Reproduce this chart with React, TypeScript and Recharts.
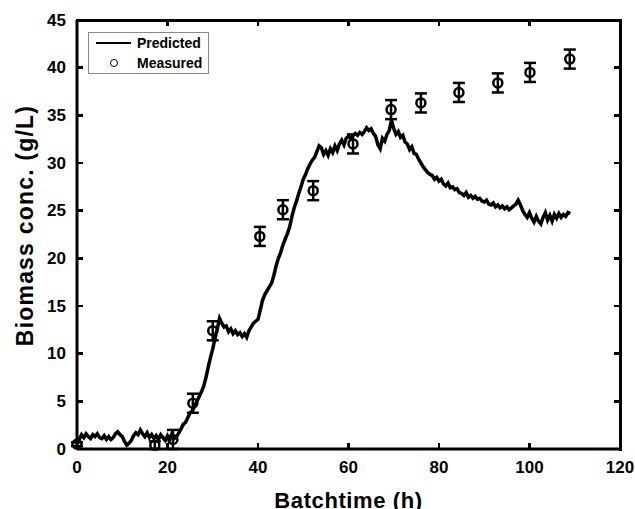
import React from "react";
import {
  ComposedChart,
  Line,
  Scatter,
  ErrorBar,
  XAxis,
  YAxis,
  Legend,
} from "recharts";

// predicted biomass, sampled every 0.5 h starting at 0 h
const PRED_STEP = 0.5;
const predValues = [
  0.6, 1.0, 1.5, 1.2, 1.6, 1.3, 1.1, 1.5, 1.3, 1.6,
  1.2, 1.1, 1.4, 1.0, 1.3, 1.0, 1.2, 1.6, 1.8, 1.5,
  1.3, 0.8, 0.4, 0.6, 0.9, 1.4, 1.7, 1.5, 2.0, 1.6,
  1.3, 1.7, 1.2, 1.5, 1.1, 1.4, 1.0, 1.5, 1.2, 0.9,
  1.4, 1.0, 1.6, 1.1, 1.3, 1.7, 2.1, 2.6, 2.8, 3.3,
  3.8, 4.0, 4.5, 5.0, 5.5, 6.0, 6.6, 7.5, 8.6, 9.6,
  10.5, 11.6, 12.6, 13.7, 13.2, 12.8, 12.9, 12.3, 12.6, 12.1,
  12.4, 12.0, 12.2, 11.8, 12.1, 11.7, 12.4, 12.8, 13.2, 13.4,
  13.6, 14.6, 15.6, 16.2, 16.6, 17.0, 17.4, 18.2, 19.2, 20.0,
  20.6, 21.4, 22.0, 22.6, 23.3, 24.4, 25.3, 26.0, 26.8, 27.5,
  28.3, 28.8, 29.4, 29.9, 30.3, 30.6, 31.2, 31.8, 31.6, 30.9,
  31.3, 30.8, 31.5, 31.1, 31.8, 31.3, 32.0, 32.4, 31.9, 32.6,
  32.8, 32.6, 32.9, 33.1, 32.9, 33.2, 33.0, 33.3, 33.7, 33.4,
  33.6, 33.1, 32.8, 31.9, 31.5, 32.6, 32.3, 33.0, 33.4, 34.5,
  33.6, 33.0, 33.3, 32.7, 32.9, 32.2, 32.0, 31.4, 31.7, 31.0,
  30.9, 30.4, 30.0, 29.6, 29.3, 29.0, 28.8, 28.7, 28.3, 28.5,
  28.1, 28.3, 27.8, 27.6, 27.9, 27.4, 27.5, 27.2, 27.3, 26.9,
  26.8, 26.6, 26.9, 26.4, 26.6, 26.3, 26.5, 26.2, 26.3, 26.0,
  25.9, 26.1, 25.7, 25.6, 25.8, 25.4, 25.6, 25.3, 25.5, 25.2,
  25.4, 25.1, 25.3, 25.5, 25.7, 26.1, 25.6, 25.0, 24.6, 24.3,
  24.8, 24.2, 23.8, 24.4, 23.9, 23.6, 24.3, 24.8, 24.0, 24.5,
  23.9, 24.6, 24.2, 24.7, 24.3, 24.6, 24.4, 24.8, 24.7,
];

// measured samples
const measTime = [0, 17.2, 21.2, 25.6, 30.0, 40.4, 45.5, 52.2, 61.0, 69.4, 76.0, 84.4, 93.0, 100.1, 108.9];
const measValue = [0.5, 0.4, 1.0, 4.8, 12.4, 22.3, 25.1, 27.1, 32.0, 35.6, 36.3, 37.4, 38.4, 39.5, 40.9];
const measError = [0.2, 0.4, 1.0, 1.0, 1.0, 1.0, 1.0, 1.0, 1.0, 1.0, 1.0, 1.0, 1.0, 1.0, 1.0];

const xTicks = [0, 20, 40, 60, 80, 100, 120];
const yTicks = [0, 5, 10, 15, 20, 25, 30, 35, 40, 45];
const X_MAX = xTicks[xTicks.length - 1];
const Y_MAX = yTicks[yTicks.length - 1];

const predData = predValues.map((y, i) => ({ x: i * PRED_STEP, y }));
const measData = measTime.map((x, i) => ({ x, y: measValue[i], err: measError[i] }));

// chart geometry
const PAD = 8;
const CHART_W = 627;
const CHART_H = 501;
const MARGIN = { top: 12, right: 15, bottom: 0, left: 0 };
const X_AXIS_H = 60;
const Y_AXIS_W = 69;
const PLOT_X = PAD + MARGIN.left + Y_AXIS_W;
const PLOT_Y = PAD + MARGIN.top;
const PLOT_W = CHART_W - MARGIN.left - MARGIN.right - Y_AXIS_W;
const PLOT_H = CHART_H - MARGIN.top - MARGIN.bottom - X_AXIS_H;

const FONT = "'Liberation Sans', Arial, Helvetica, sans-serif";
const TICK_LEN = 6;
const AXIS_LINE = { stroke: "#000", strokeWidth: 3 };

const labelStyle = { fontFamily: FONT, fontWeight: 700, fontSize: 17, fill: "#000" };

// the root is clipped to the body box, so take the body margin off and pad instead
if (typeof document !== "undefined") document.body.style.margin = "0";

function BottomTick({ x, y, payload }: any) {
  return (
    <text x={x} y={y + 18} textAnchor="middle" dominantBaseline="central" style={labelStyle}>
      {payload.value}
    </text>
  );
}

function LeftTick({ x, y, payload }: any) {
  return (
    <text x={x - 11} y={y} textAnchor="end" dominantBaseline="central" style={labelStyle}>
      {payload.value}
    </text>
  );
}

function XTitle({ viewBox }: any) {
  return (
    <text
      x={viewBox.x + viewBox.width / 2}
      y={viewBox.y + 51}
      textAnchor="middle"
      dominantBaseline="central"
      style={{ fontFamily: FONT, fontWeight: 700, fontSize: 22, letterSpacing: 0.6, fill: "#000" }}
    >
      Batchtime (h)
    </text>
  );
}

function YTitle({ viewBox }: any) {
  const cx = viewBox.x + 17;
  const cy = viewBox.y + viewBox.height / 2 - 9;
  return (
    <text
      x={cx}
      y={cy}
      transform={`rotate(-90 ${cx} ${cy})`}
      textAnchor="middle"
      dominantBaseline="central"
      style={{ fontFamily: FONT, fontWeight: 700, fontSize: 23, letterSpacing: 1.2, fill: "#000" }}
    >
      Biomass conc. (g/L)
    </text>
  );
}

function Marker({ cx, cy }: any) {
  return <circle cx={cx} cy={cy} r={4.5} fill="none" stroke="#000" strokeWidth={2.5} />;
}

function LegendBox() {
  return (
    <svg width={122} height={43} style={{ display: "block" }}>
      <rect x={0.5} y={0.5} width={120} height={41} fill="#fff" stroke="#8a8a8a" strokeWidth={1} />
      <line x1={8} y1={11} x2={43} y2={11} stroke="#000" strokeWidth={2} />
      <text x={49} y={11} dominantBaseline="central" style={{ fontFamily: FONT, fontWeight: 700, fontSize: 14 }}>
        Predicted
      </text>
      <circle cx={26} cy={31} r={3.5} fill="none" stroke="#000" strokeWidth={1} />
      <text x={49} y={31} dominantBaseline="central" style={{ fontFamily: FONT, fontWeight: 700, fontSize: 14 }}>
        Measured
      </text>
    </svg>
  );
}

// box frame (top/right edges) and inward tick marks on all four sides
function Frame() {
  const bar = (left: number, top: number, w: number, h: number, key: string) => (
    <div
      key={key}
      style={{ position: "absolute", left, top, width: w, height: h, background: "#000", pointerEvents: "none" }}
    />
  );
  const parts: React.ReactNode[] = [];
  parts.push(bar(PLOT_X - 1.5, PLOT_Y - 1.5, PLOT_W + 3, 3, "top"));
  parts.push(bar(PLOT_X + PLOT_W - 1.5, PLOT_Y - 1.5, 3, PLOT_H + 3, "right"));
  xTicks.forEach((t) => {
    const px = PLOT_X + (PLOT_W * t) / X_MAX;
    parts.push(bar(px - 1.25, PLOT_Y, 2.5, TICK_LEN, `xt${t}`));
    parts.push(bar(px - 1.25, PLOT_Y + PLOT_H - TICK_LEN, 2.5, TICK_LEN, `xb${t}`));
  });
  yTicks.forEach((t) => {
    const py = PLOT_Y + PLOT_H * (1 - t / Y_MAX);
    parts.push(bar(PLOT_X, py - 1.25, TICK_LEN, 2.5, `yl${t}`));
    parts.push(bar(PLOT_X + PLOT_W - TICK_LEN, py - 1.25, TICK_LEN, 2.5, `yr${t}`));
  });
  return <>{parts}</>;
}

export default function App() {
  return (
    <div style={{ position: "relative", width: CHART_W, height: CHART_H, padding: `${PAD}px 0 0 ${PAD}px` }}>
      <ComposedChart width={CHART_W} height={CHART_H} data={predData} margin={MARGIN}>
        <XAxis
          dataKey="x"
          type="number"
          domain={[0, X_MAX]}
          ticks={xTicks}
          height={X_AXIS_H}
          tickSize={0}
          tickMargin={0}
          tickLine={false}
          axisLine={AXIS_LINE}
          tick={(p: any) => <BottomTick {...p} />}
          label={(p: any) => <XTitle {...p} />}
        />
        <YAxis
          type="number"
          domain={[0, Y_MAX]}
          ticks={yTicks}
          width={Y_AXIS_W}
          tickSize={0}
          tickMargin={0}
          tickLine={false}
          axisLine={AXIS_LINE}
          tick={(p: any) => <LeftTick {...p} />}
          label={(p: any) => <YTitle {...p} />}
        />
        <Legend
          layout="vertical"
          align="center"
          verticalAlign="middle"
          wrapperStyle={{ left: 80, top: 24, width: "auto", height: "auto" }}
          content={() => <LegendBox />}
        />
        <Line
          dataKey="y"
          type="linear"
          stroke="#000"
          strokeWidth={3.5}
          dot={false}
          activeDot={false}
          isAnimationActive={false}
        />
        <Scatter
          data={measData}
          dataKey="y"
          shape={(p: any) => <Marker {...p} />}
          isAnimationActive={false}
        >
          <ErrorBar dataKey="err" direction="y" width={6} stroke="#000" strokeWidth={2.5} />
        </Scatter>
      </ComposedChart>
      <Frame />
    </div>
  );
}
